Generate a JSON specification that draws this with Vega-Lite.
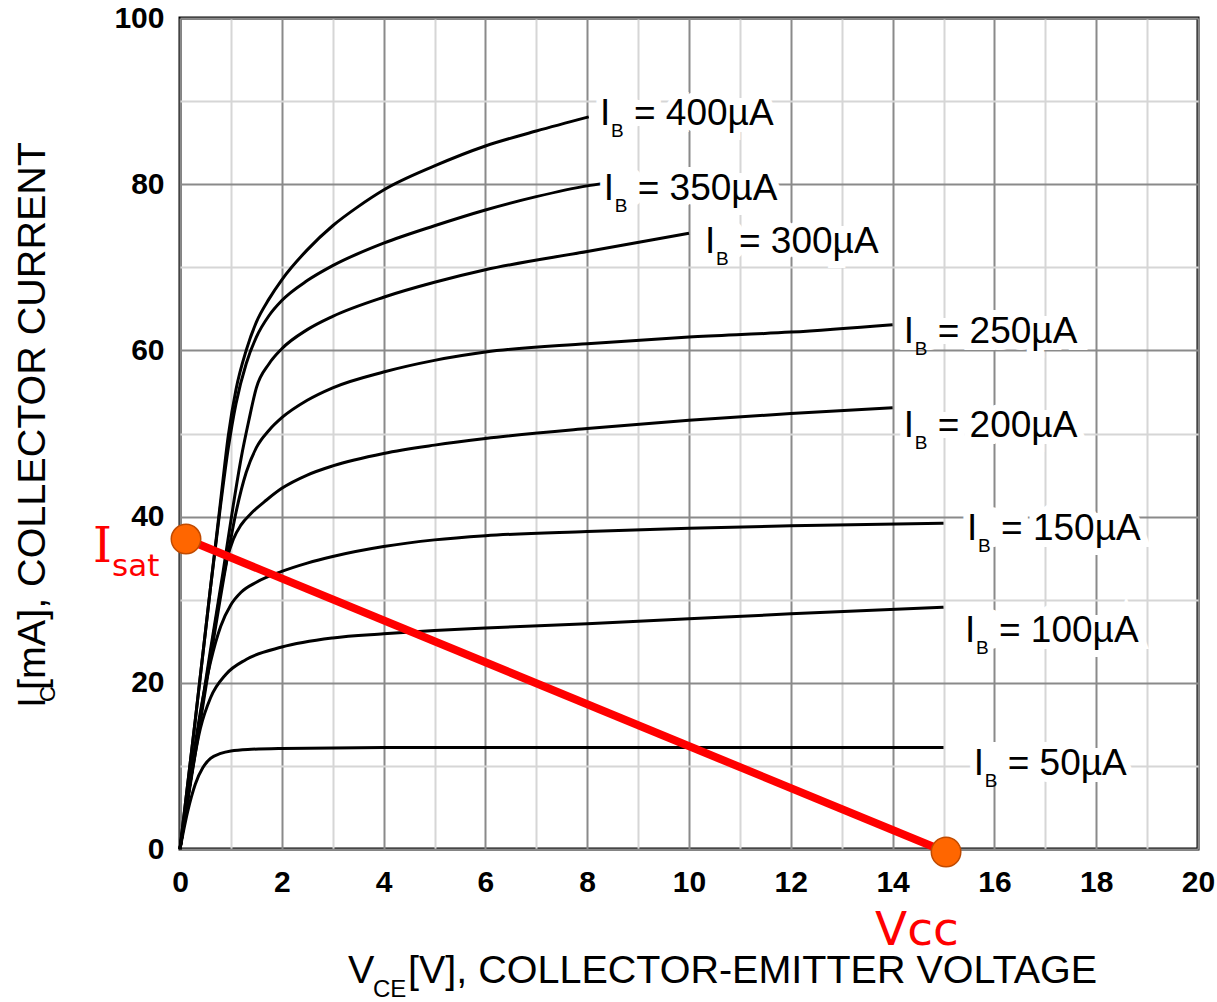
{
  "$schema": "https://vega.github.io/schema/vega-lite/v6.json",
  "width": 1018,
  "height": 831,
  "autosize": {"type": "none"},
  "padding": {"left": 180, "top": 18, "right": 19, "bottom": 153},
  "background": "white",
  "config": {"view": {"stroke": "black", "strokeWidth": 3}},
  "datasets": {
    "curves": [
      {"ib": "50", "v": 0, "ic": 0}, {"ib": "50", "v": 0.15, "ic": 4.5}, {"ib": "50", "v": 0.3, "ic": 7.8}, {"ib": "50", "v": 0.45, "ic": 9.8}, {"ib": "50", "v": 0.6, "ic": 10.9}, {"ib": "50", "v": 0.8, "ic": 11.5}, {"ib": "50", "v": 1.0, "ic": 11.8}, {"ib": "50", "v": 1.4, "ic": 12.0}, {"ib": "50", "v": 2, "ic": 12.1}, {"ib": "50", "v": 4, "ic": 12.2}, {"ib": "50", "v": 8, "ic": 12.2}, {"ib": "50", "v": 15, "ic": 12.2},
      {"ib": "100", "v": 0, "ic": 0}, {"ib": "100", "v": 0.2, "ic": 8}, {"ib": "100", "v": 0.4, "ic": 14.5}, {"ib": "100", "v": 0.6, "ic": 18.2}, {"ib": "100", "v": 0.9, "ic": 21}, {"ib": "100", "v": 1.3, "ic": 22.8}, {"ib": "100", "v": 2, "ic": 24.3}, {"ib": "100", "v": 3, "ic": 25.4}, {"ib": "100", "v": 4, "ic": 25.9}, {"ib": "100", "v": 5, "ic": 26.3}, {"ib": "100", "v": 6, "ic": 26.6}, {"ib": "100", "v": 8, "ic": 27.1}, {"ib": "100", "v": 10, "ic": 27.7}, {"ib": "100", "v": 12, "ic": 28.3}, {"ib": "100", "v": 15, "ic": 29.1},
      {"ib": "150", "v": 0, "ic": 0}, {"ib": "150", "v": 0.2, "ic": 8.5}, {"ib": "150", "v": 0.4, "ic": 16.5}, {"ib": "150", "v": 0.6, "ic": 22.5}, {"ib": "150", "v": 0.8, "ic": 26.8}, {"ib": "150", "v": 1.0, "ic": 29.4}, {"ib": "150", "v": 1.2, "ic": 30.9}, {"ib": "150", "v": 1.5, "ic": 32.1}, {"ib": "150", "v": 2, "ic": 33.4}, {"ib": "150", "v": 2.5, "ic": 34.4}, {"ib": "150", "v": 3, "ic": 35.2}, {"ib": "150", "v": 4, "ic": 36.4}, {"ib": "150", "v": 5, "ic": 37.2}, {"ib": "150", "v": 6, "ic": 37.7}, {"ib": "150", "v": 8, "ic": 38.2}, {"ib": "150", "v": 10, "ic": 38.6}, {"ib": "150", "v": 12, "ic": 38.9}, {"ib": "150", "v": 15, "ic": 39.2},
      {"ib": "200", "v": 0, "ic": 0}, {"ib": "200", "v": 0.3, "ic": 12}, {"ib": "200", "v": 0.6, "ic": 23.5}, {"ib": "200", "v": 0.8, "ic": 31}, {"ib": "200", "v": 0.92, "ic": 34.8}, {"ib": "200", "v": 1.05, "ic": 37.3}, {"ib": "200", "v": 1.2, "ic": 39}, {"ib": "200", "v": 1.4, "ic": 40.4}, {"ib": "200", "v": 1.7, "ic": 42}, {"ib": "200", "v": 2, "ic": 43.4}, {"ib": "200", "v": 2.5, "ic": 45}, {"ib": "200", "v": 3, "ic": 46.1}, {"ib": "200", "v": 4, "ic": 47.6}, {"ib": "200", "v": 5, "ic": 48.6}, {"ib": "200", "v": 6, "ic": 49.4}, {"ib": "200", "v": 8, "ic": 50.6}, {"ib": "200", "v": 10, "ic": 51.6}, {"ib": "200", "v": 12, "ic": 52.4}, {"ib": "200", "v": 14, "ic": 53.1},
      {"ib": "250", "v": 0, "ic": 0}, {"ib": "250", "v": 0.3, "ic": 11.5}, {"ib": "250", "v": 0.6, "ic": 23}, {"ib": "250", "v": 0.9, "ic": 34}, {"ib": "250", "v": 1.1, "ic": 40.5}, {"ib": "250", "v": 1.3, "ic": 45.3}, {"ib": "250", "v": 1.5, "ic": 48.3}, {"ib": "250", "v": 1.75, "ic": 50.4}, {"ib": "250", "v": 2, "ic": 51.9}, {"ib": "250", "v": 2.5, "ic": 54}, {"ib": "250", "v": 3, "ic": 55.5}, {"ib": "250", "v": 4, "ic": 57.4}, {"ib": "250", "v": 5, "ic": 58.8}, {"ib": "250", "v": 6, "ic": 59.8}, {"ib": "250", "v": 8, "ic": 60.8}, {"ib": "250", "v": 10, "ic": 61.6}, {"ib": "250", "v": 12, "ic": 62.2}, {"ib": "250", "v": 14, "ic": 63.1},
      {"ib": "300", "v": 0, "ic": 0}, {"ib": "300", "v": 0.3, "ic": 12}, {"ib": "300", "v": 0.6, "ic": 24}, {"ib": "300", "v": 0.85, "ic": 33.5}, {"ib": "300", "v": 1.05, "ic": 41.5}, {"ib": "300", "v": 1.2, "ic": 47}, {"ib": "300", "v": 1.35, "ic": 51.5}, {"ib": "300", "v": 1.5, "ic": 55.5}, {"ib": "300", "v": 1.75, "ic": 58.4}, {"ib": "300", "v": 2, "ic": 60.2}, {"ib": "300", "v": 2.5, "ic": 62.5}, {"ib": "300", "v": 3, "ic": 64.1}, {"ib": "300", "v": 4, "ic": 66.4}, {"ib": "300", "v": 5, "ic": 68.2}, {"ib": "300", "v": 6, "ic": 69.7}, {"ib": "300", "v": 8, "ic": 71.9}, {"ib": "300", "v": 10, "ic": 74.1},
      {"ib": "350", "v": 0, "ic": 0}, {"ib": "350", "v": 0.3, "ic": 15.5}, {"ib": "350", "v": 0.6, "ic": 31.5}, {"ib": "350", "v": 0.8, "ic": 41.5}, {"ib": "350", "v": 0.95, "ic": 48.3}, {"ib": "350", "v": 1.1, "ic": 53.6}, {"ib": "350", "v": 1.3, "ic": 58.4}, {"ib": "350", "v": 1.5, "ic": 61.6}, {"ib": "350", "v": 1.75, "ic": 64.2}, {"ib": "350", "v": 2, "ic": 66}, {"ib": "350", "v": 2.5, "ic": 68.4}, {"ib": "350", "v": 3, "ic": 70.2}, {"ib": "350", "v": 4, "ic": 72.9}, {"ib": "350", "v": 5, "ic": 75}, {"ib": "350", "v": 6, "ic": 76.9}, {"ib": "350", "v": 7, "ic": 78.5}, {"ib": "350", "v": 8, "ic": 79.8}, {"ib": "350", "v": 8.33, "ic": 80.1},
      {"ib": "400", "v": 0, "ic": 0}, {"ib": "400", "v": 0.3, "ic": 15.5}, {"ib": "400", "v": 0.6, "ic": 31.5}, {"ib": "400", "v": 0.8, "ic": 42}, {"ib": "400", "v": 0.95, "ic": 49.8}, {"ib": "400", "v": 1.1, "ic": 55.3}, {"ib": "400", "v": 1.3, "ic": 60}, {"ib": "400", "v": 1.5, "ic": 63.4}, {"ib": "400", "v": 1.75, "ic": 66.2}, {"ib": "400", "v": 2, "ic": 68.5}, {"ib": "400", "v": 2.5, "ic": 72.1}, {"ib": "400", "v": 3, "ic": 75}, {"ib": "400", "v": 3.5, "ic": 77.3}, {"ib": "400", "v": 4, "ic": 79.3}, {"ib": "400", "v": 5, "ic": 82.2}, {"ib": "400", "v": 6, "ic": 84.6}, {"ib": "400", "v": 7, "ic": 86.4}, {"ib": "400", "v": 8.03, "ic": 88.1}
    ],
    "load": [
      {"name": "Isat", "v": 0.118, "ic": 37.3},
      {"name": "Vcc", "v": 15.05, "ic": -0.36}
    ],
    "labels": [
      {"ib": "400", "v": 8.251, "ic": 87.12, "txt": "= 400µA"},
      {"ib": "350", "v": 8.324, "ic": 78.1, "txt": "= 350µA"},
      {"ib": "300", "v": 10.314, "ic": 71.72, "txt": "= 300µA"},
      {"ib": "250", "v": 14.218, "ic": 60.89, "txt": "= 250µA"},
      {"ib": "200", "v": 14.218, "ic": 49.58, "txt": "= 200µA"},
      {"ib": "150", "v": 15.462, "ic": 37.18, "txt": "= 150µA"},
      {"ib": "100", "v": 15.422, "ic": 24.91, "txt": "= 100µA"},
      {"ib": "50", "v": 15.593, "ic": 8.9, "txt": "= 50µA"}
    ]
  },
  "encoding": {
    "x": {
      "field": "v", "type": "quantitative",
      "scale": {"domain": [0, 20], "nice": false, "zero": false},
      "axis": {
        "values": [0,1,2,3,4,5,6,7,8,9,10,11,12,13,14,15,16,17,18,19,20],
        "labelExpr": "datum.value % 2 === 0 ? datum.label : ''",
        "title": null, "domain": false, "ticks": false,
        "labelFont": "Liberation Sans", "labelFontWeight": "bold", "labelFontSize": 30, "labelColor": "black",
        "labelPadding": 18, "labelFlush": false, "labelOverlap": false,
        "grid": true, "gridWidth": 2,
        "gridColor": {"condition": {"test": "datum.value % 2 === 0", "value": "#8a8a8a"}, "value": "#d6d6d6"}
      }
    },
    "y": {
      "field": "ic", "type": "quantitative",
      "scale": {"domain": [0, 100], "nice": false, "zero": false},
      "axis": {
        "values": [0,10,20,30,40,50,60,70,80,90,100],
        "labelExpr": "datum.value % 20 === 0 ? datum.label : ''",
        "title": null, "domain": false, "ticks": false,
        "labelFont": "Liberation Sans", "labelFontWeight": "bold", "labelFontSize": 30, "labelColor": "black",
        "labelPadding": 16, "labelFlush": false, "labelOverlap": false,
        "grid": true, "gridWidth": 2,
        "gridColor": {"condition": {"test": "datum.value % 20 === 0", "value": "#8a8a8a"}, "value": "#d6d6d6"}
      }
    }
  },
  "layer": [
    {
      "data": {"name": "curves"},
      "mark": {"type": "line", "color": "black", "strokeWidth": 3, "interpolate": "monotone"},
      "encoding": {"detail": {"field": "ib"}}
    },
    {
      "data": {"name": "load"},
      "mark": {"type": "line", "color": "#ff0000", "strokeWidth": 8, "clip": false},
      "encoding": {}
    },
    {
      "data": {"name": "load"},
      "mark": {"type": "point", "shape": "circle", "filled": true, "size": 870, "fill": "#ff6600", "stroke": "#c04a00", "strokeWidth": 1.5, "opacity": 1, "clip": false}
    },
    {
      "data": {"name": "labels"},
      "mark": {"type": "text", "text": "IB", "align": "left", "baseline": "alphabetic", "font": "Liberation Sans", "fontSize": 37, "fill": "white", "stroke": "white", "strokeWidth": 14, "clip": false}
    },
    {
      "data": {"name": "labels"},
      "mark": {"type": "text", "dx": 34, "align": "left", "baseline": "alphabetic", "font": "Liberation Sans", "fontSize": 37, "fill": "white", "stroke": "white", "strokeWidth": 14, "clip": false},
      "encoding": {"text": {"field": "txt"}}
    },
    {
      "data": {"name": "labels"},
      "mark": {"type": "text", "text": "I", "align": "left", "baseline": "alphabetic", "font": "Liberation Sans", "fontSize": 37, "color": "black", "clip": false}
    },
    {
      "data": {"name": "labels"},
      "mark": {"type": "text", "text": "B", "dx": 11, "dy": 12, "align": "left", "baseline": "alphabetic", "font": "Liberation Sans", "fontSize": 19, "color": "black", "clip": false}
    },
    {
      "data": {"name": "labels"},
      "mark": {"type": "text", "dx": 34, "align": "left", "baseline": "alphabetic", "font": "Liberation Sans", "fontSize": 37, "color": "black", "clip": false},
      "encoding": {"text": {"field": "txt"}}
    },
    {
      "data": {"values": [{"v": -1.709, "ic": 34.54}]},
      "mark": {"type": "text", "text": "I", "align": "left", "baseline": "alphabetic", "font": "DejaVu Serif", "fontSize": 48, "color": "#ff0000", "clip": false}
    },
    {
      "data": {"values": [{"v": -1.336, "ic": 32.85}]},
      "mark": {"type": "text", "text": "sat", "align": "left", "baseline": "alphabetic", "font": "DejaVu Sans", "fontSize": 31, "color": "#ff0000", "clip": false}
    },
    {
      "data": {"values": [{"v": 13.654, "ic": -11.55}]},
      "mark": {"type": "text", "text": "Vcc", "align": "left", "baseline": "alphabetic", "font": "DejaVu Sans", "fontSize": 47, "color": "#ff0000", "clip": false}
    },
    {
      "data": {"values": [{"v": 3.30, "ic": -16.13}]},
      "mark": {"type": "text", "text": "V", "align": "left", "baseline": "alphabetic", "font": "Liberation Sans", "fontSize": 39.5, "color": "black", "clip": false}
    },
    {
      "data": {"values": [{"v": 4.479, "ic": -16.13}]},
      "mark": {"type": "text", "text": "[V], COLLECTOR-EMITTER VOLTAGE", "align": "left", "baseline": "alphabetic", "font": "Liberation Sans", "fontSize": 39.5, "color": "black", "clip": false}
    },
    {
      "data": {"values": [{"v": 3.792, "ic": -17.81}]},
      "mark": {"type": "text", "text": "CE", "align": "left", "baseline": "alphabetic", "font": "Liberation Sans", "fontSize": 24, "color": "black", "clip": false}
    },
    {
      "data": {"values": [{"v": -2.652, "ic": 16.97}]},
      "mark": {"type": "text", "text": "I", "angle": 270, "align": "left", "baseline": "alphabetic", "font": "Liberation Sans", "fontSize": 39.5, "color": "black", "clip": false}
    },
    {
      "data": {"values": [{"v": -2.652, "ic": 19.13}]},
      "mark": {"type": "text", "text": "[mA], COLLECTOR CURRENT", "angle": 270, "align": "left", "baseline": "alphabetic", "font": "Liberation Sans", "fontSize": 39.5, "color": "black", "clip": false}
    },
    {
      "data": {"values": [{"v": -2.456, "ic": 17.69}]},
      "mark": {"type": "text", "text": "C", "angle": 270, "align": "left", "baseline": "alphabetic", "font": "Liberation Sans", "fontSize": 22, "color": "black", "clip": false}
    }
  ]
}
